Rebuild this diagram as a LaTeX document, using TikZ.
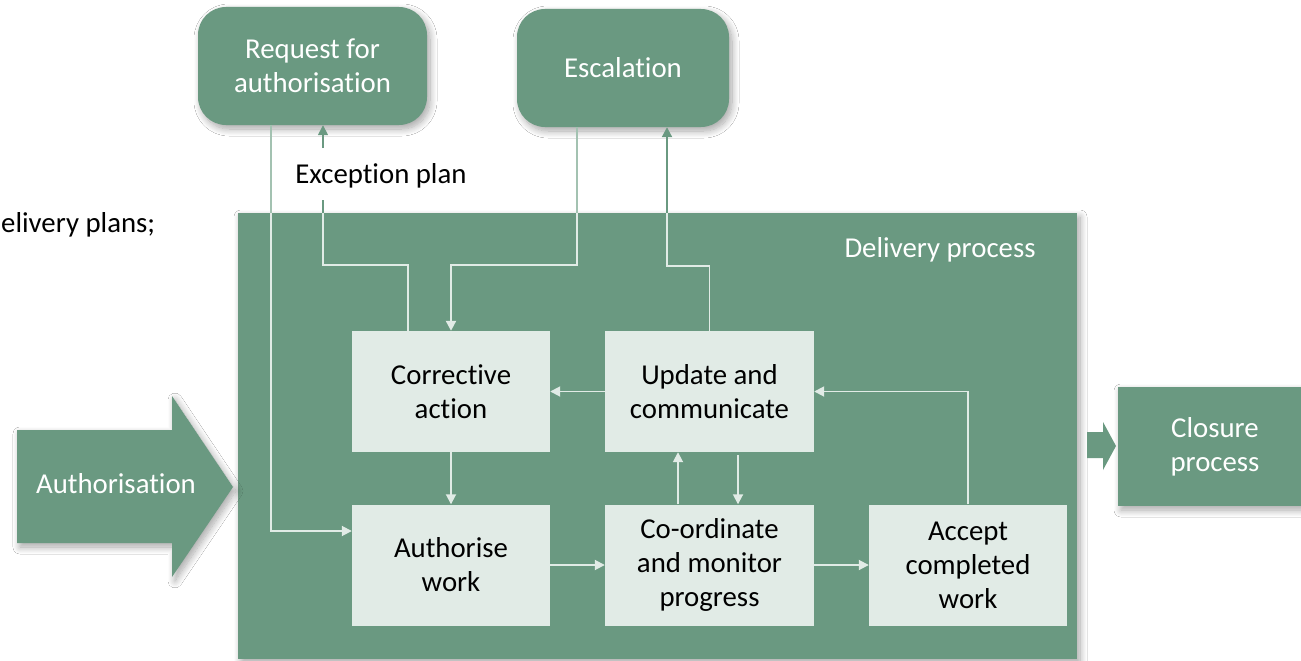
\documentclass[tikz,border=0pt]{standalone}
\usepackage{fontspec}
\setmainfont{Carlito}[Ligatures=NoCommon]
\usetikzlibrary{arrows.meta,shadows.blur,calc}
\definecolor{dgreen}{HTML}{6A9981}
\definecolor{lbox}{HTML}{E1EBE6}
\definecolor{pline}{HTML}{A3C2B1}
\begin{document}
\begin{tikzpicture}[x=1pt,y=-1pt,
  every node/.style={font=\fontsize{28.8}{34}\selectfont, inner sep=0pt, align=center},
  gbox/.style={fill=dgreen, text=white},
  shad/.style={blur shadow={shadow xshift=3pt, shadow yshift=-4pt, shadow blur radius=7pt, shadow opacity=35, shadow blur steps=12}},
  wbox/.style={fill=lbox, text=black, minimum width=198pt, minimum height=121pt},
  lline/.style={draw=lbox, line width=1.8pt},
  tip/.style={-{Triangle[length=10pt,width=10pt]}},
]
\useasboundingbox (0,0) rectangle (1301,661);
\clip (0,0) rectangle (1301,661);
\fill[white] (0,0) rectangle (1301,661);

% side text
\node[anchor=base west] (dplans) at (1,232) {elivery plans;};

% big delivery box
\node[gbox, shad, minimum width=839pt, minimum height=446pt] (dp) at (657.5,436) {};
\node[text=white, anchor=base] (dplabel) at (940,257) {Delivery process};

% top boxes
\node[gbox, shad, rounded corners=28pt, minimum width=229pt, minimum height=118pt] (req) at (312.5,66) {Request for\\authorisation};
\node[gbox, shad, rounded corners=28pt, minimum width=212pt, minimum height=118pt] (esc) at (623,68) {Escalation};

% authorisation arrow
\path[fill=dgreen, shad] (17,430) -- (172,430) -- (172,396) -- (233,487) -- (172,577) -- (172,543) -- (17,543) -- cycle;
\node[text=white, anchor=base] (authn) at (116,493) {Authorisation};

% closure arrow and box
\path[fill=dgreen] (1087,432) -- (1103,432) -- (1103,422) -- (1116,446) -- (1103,470) -- (1103,458) -- (1087,458) -- cycle;
\node[gbox, shad, minimum width=194pt, minimum height=119pt] (clo) at (1215,446.5) {Closure\\process};

% inner boxes
\node[wbox] (corr) at (451,391.5) {Corrective\\action};
\node[wbox, minimum width=209pt] (upd) at (709.5,391.5) {Update and\\communicate};
\node[wbox] (auth) at (451,565) {Authorise\\work};
\node[wbox, minimum width=209pt] (coo) at (709.5,565) {Co-ordinate\\and monitor\\progress};
\node[wbox] (acc) at (968,565) {Accept\\completed\\work};

% Request -> Authorise work
\coordinate (rq1) at (271,213);
\draw[draw=pline, line width=1.4pt] ([xshift=-41.5pt]req.south) -- (rq1);
\draw[lline, tip] (rq1) |- ([yshift=34pt]auth.west);

% Corrective action -> Request (exception plan)
\coordinate (ex1) at (323,265);
\coordinate (ex2) at (323,213);
\coordinate (ex3) at (323,200);
\coordinate (ex4) at (323,148);
\draw[lline, line width=1.5pt] ([xshift=-43pt]corr.north) |- (ex1) -- (ex2);
\draw[draw=dgreen, line width=1.6pt] (ex2) -- (ex3);
\node[anchor=base] (exlabel) at (381,183) {Exception plan};
\draw[draw=dgreen, line width=1.6pt, tip] (ex4) -- (req.south -| ex4);

% Escalation -> Corrective action
\coordinate (es1) at (577,213);
\coordinate (es2) at (577,265);
\draw[draw=pline, line width=1.4pt] ([xshift=-46pt]esc.south) -- (es1);
\draw[lline, line width=2.2pt, tip] (es1) -- (es2) -| (corr.north);

% Update -> Escalation
\coordinate (up1) at (667,266);
\coordinate (up2) at (667,213);
\draw[lline, line width=1.5pt] (upd.north) |- (up1) -- (up2);
\draw[draw=dgreen, line width=2pt, tip] (up2) -- (esc.south -| up2);

% inner connectors
\draw[lline, tip] (upd.west) -- (corr.east);
\draw[lline, tip] (corr.south) -- (auth.north);
\draw[lline, tip] (auth.east) -- (coo.west);
\draw[lline, tip] ([xshift=-31.5pt]coo.north) -- ([xshift=-31.5pt]upd.south);
\draw[lline, tip] ([xshift=28.5pt,yshift=-3pt]upd.south) -- ([xshift=28.5pt]coo.north);
\draw[lline, tip] (coo.east) -- (acc.west);
\draw[lline, tip] (acc.north) |- (upd.east);
\end{tikzpicture}
\end{document}
